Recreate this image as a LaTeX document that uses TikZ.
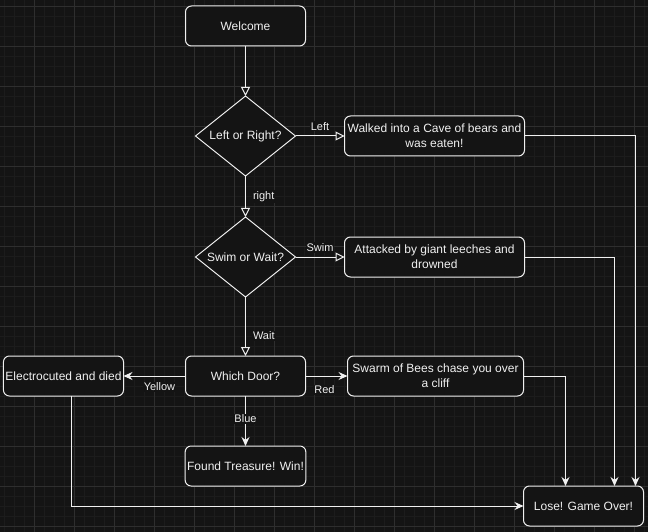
\documentclass[tikz,border=0pt]{standalone}
\usepackage{fontspec}
\setmainfont{Liberation Sans}
\usetikzlibrary{arrows.meta, positioning, shapes.geometric}
\definecolor{canvas}{HTML}{141414}
\definecolor{gridminor}{HTML}{1C1C1C}
\definecolor{gridmajor}{HTML}{2E2E2E}
\definecolor{ink}{HTML}{F0F0F0}
\tikzstyle{flow}=[x=1pt, y=-1pt, line width=1pt, draw=ink, text=ink, font=\fontsize{12}{15}\selectfont]
\tikzstyle{box}=[draw=ink, rectangle, rounded corners=6pt, fill=canvas, minimum width=120pt, minimum height=40pt, inner sep=2pt, outer sep=0pt, align=center]
\tikzstyle{ask}=[draw=ink, diamond, fill=canvas, aspect=1.25, minimum width=100pt, minimum height=80pt, inner sep=0pt, outer sep=0pt]
\tikzstyle{lbl}=[fill=canvas, inner sep=1pt, text=ink, font=\fontsize{11}{13}\selectfont]
\tikzstyle{hollow}=[draw=ink, -{Triangle[open, length=9pt, width=9pt]}]
\tikzstyle{filledtip}=[draw=ink, -{Stealth[length=9pt, width=8pt, inset=3pt]}]

\begin{document}
\begin{tikzpicture}[flow]
  % canvas and grid
  \fill[canvas] (0,0) rectangle (648,532);
  \useasboundingbox (0,0) rectangle (648,532);
  \foreach \x in {4,14,...,644} \draw[gridminor, line width=0.6pt] (\x,0) -- (\x,532);
  \foreach \y in {6,16,...,526} \draw[gridminor, line width=0.6pt] (0,\y) -- (648,\y);
  \foreach \x in {34,74,...,634} \draw[gridmajor, line width=0.8pt] (\x,0) -- (\x,532);
  \foreach \y in {6,46,...,526} \draw[gridmajor, line width=0.8pt] (0,\y) -- (648,\y);

  \node[box] (welcome) at (245.5,26) {Welcome};
  \node[ask] (lr) [below=50pt of welcome] {Left or Right?};
  \node[box, minimum width=180pt] (bears) [right=49pt of lr] {Walked into a Cave of bears and\\was eaten!};
  \node[ask] (sw) [below=41pt of lr] {Swim or Wait?};
  \node[box, minimum width=180pt] (leech) [right=49pt of sw] {Attacked by giant leeches and\\drowned};
  \node[box] (door) [below=59pt of sw] {Which Door?};
  \node[box] (shock) [left=62pt of door] {Electrocuted and died};
  \node[box] (win) [below=50pt of door] {Found Treasure! Win!};
  \node[box, minimum width=176pt] (bees) [right=42pt of door] {Swarm of Bees chase you over\\a cliff};
  \node[box] (lose) [below right=90pt and 0pt of bees] {Lose! Game Over!};

  \path[hollow] (welcome) edge (lr);
  \path[hollow] (lr) edge node[lbl, above=4pt] {Left} (bears);
  \path[hollow] (lr) edge node[lbl, right=6pt] {right} (sw);
  \path[hollow] (sw) edge node[lbl, above=4pt] {Swim} (leech);
  \path[hollow] (sw) edge node[lbl, right=6pt, pos=.66] {Wait} (door);
  \path[filledtip] (door) edge node[lbl, below=5pt, pos=.42] {Yellow} (shock);
  \path[filledtip] (door) edge node[lbl, pos=.46] {Blue} (win);
  \path[filledtip] (door) edge node[lbl, below=8pt, pos=.45] {Red} (bees);
  % endings
  \draw[filledtip] (bears) -| ([xshift=52pt]lose.north);
  \draw[filledtip] (leech) -| ([xshift=31pt]lose.north);
  \draw[filledtip] (bees) -| ([xshift=-18pt]lose.north);
  \draw[filledtip] ([xshift=8pt]shock.south) |- (lose);
\end{tikzpicture}
\end{document}
